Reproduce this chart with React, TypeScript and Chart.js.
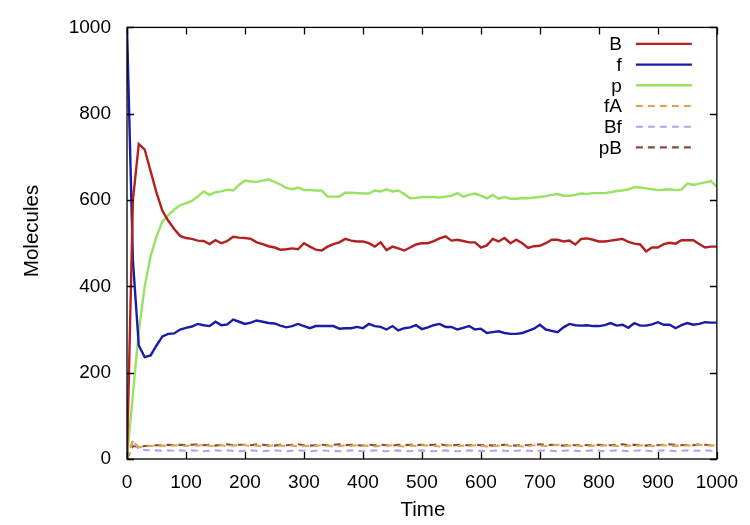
import React, { useEffect, useRef } from 'react';
import { Chart, registerables } from 'chart.js';

Chart.register(...registerables);

const time = [
  0, 10, 20, 30, 40, 50, 60, 70, 80, 90,
  100, 110, 120, 130, 140, 150, 160, 170, 180, 190,
  200, 210, 220, 230, 240, 250, 260, 270, 280, 290,
  300, 310, 320, 330, 340, 350, 360, 370, 380, 390,
  400, 410, 420, 430, 440, 450, 460, 470, 480, 490,
  500, 510, 520, 530, 540, 550, 560, 570, 580, 590,
  600, 610, 620, 630, 640, 650, 660, 670, 680, 690,
  700, 710, 720, 730, 740, 750, 760, 770, 780, 790,
  800, 810, 820, 830, 840, 850, 860, 870, 880, 890,
  900, 910, 920, 930, 940, 950, 960, 970, 980, 990,
  1000,
];

const seriesB = [
  0, 600, 730, 717, 667, 617, 575, 552, 533, 517,
  512, 510, 506, 505, 498, 507, 500, 505, 515, 513,
  512, 510, 502, 498, 493, 490, 485, 486, 488, 486,
  500, 492, 485, 483, 492, 498, 502, 510, 506, 504,
  504, 500, 492, 502, 484, 492, 488, 483, 490, 497,
  500, 500, 505, 511, 516, 506, 508, 505, 502, 502,
  490, 495, 510, 504, 512, 500, 508, 500, 489, 493,
  494, 500, 508, 508, 504, 506, 497, 510, 511, 508,
  504, 504, 506, 508, 510, 503, 499, 497, 481, 490,
  490, 498, 501, 499, 507, 507, 507, 498, 490, 492,
  492,
];

const seriesF = [
  1000, 460, 263, 236, 240, 263, 284, 290, 291, 300,
  304, 307, 313, 310, 308, 318, 310, 312, 323, 318,
  313, 316, 321, 318, 315, 314, 309, 305, 308, 313,
  308, 303, 308, 308, 308, 308, 302, 303, 303, 306,
  303, 313, 308, 306, 300, 308, 298, 303, 305, 310,
  301, 305, 310, 313, 306, 306, 300, 304, 308, 300,
  302, 292, 294, 296, 292, 290, 290, 292, 297, 302,
  311, 300, 297, 294, 305, 313, 310, 309, 310, 308,
  308, 310, 315, 309, 311, 304, 315, 309, 309, 312,
  317, 311, 311, 303, 310, 315, 311, 313, 317, 316,
  316,
];

const seriesP = [
  0, 150, 295, 400, 470, 515, 550, 565, 578, 588,
  593, 598, 608, 620, 612, 618, 620, 624, 622, 635,
  645, 643, 642, 645, 648, 642, 636, 628, 625, 629,
  623, 623, 622, 622, 608, 608, 608, 617, 617, 616,
  615, 615, 622, 620, 625, 620, 622, 614, 604, 605,
  607, 607, 607, 606, 608, 610, 616, 608, 612, 615,
  610, 604, 612, 603, 607, 603, 603, 604, 604, 606,
  607, 609, 612, 614, 610, 610, 612, 615, 614, 616,
  616, 616, 618, 621, 622, 625, 630, 629, 627, 625,
  623, 624, 625, 623, 624, 638, 635, 638, 641, 644,
  631,
];

const seriesFA = [
  0, 42, 27, 29, 30, 31, 31, 30, 32, 31,
  30, 32, 31, 33, 30, 31, 32, 30, 31, 33,
  32, 30, 31, 29, 30, 32, 31, 30, 31, 29,
  30, 31, 30, 32, 31, 29, 30, 31, 30, 32,
  30, 31, 29, 30, 31, 32, 30, 29, 31, 30,
  32, 31, 30, 29, 31, 32, 30, 31, 30, 32,
  31, 29, 30, 31, 32, 30, 31, 29, 30, 32,
  31, 30, 31, 33, 30, 31, 32, 30, 29, 31,
  30, 32, 31, 30, 29, 31, 30, 32, 31, 30,
  31, 32, 30, 31, 30, 32, 31, 33, 32, 31,
  32,
];

const seriesBF = [
  0, 45, 22, 21, 20, 20, 19, 20, 19, 20,
  19, 20, 19, 18, 19, 20, 19, 20, 19, 18,
  19, 20, 19, 18, 19, 20, 19, 18, 19, 20,
  19, 18, 19, 20, 19, 19, 18, 19, 20, 19,
  18, 19, 20, 19, 18, 19, 20, 19, 18, 19,
  20, 19, 18, 19, 20, 19, 18, 19, 20, 19,
  19, 18, 19, 20, 19, 18, 19, 20, 19, 18,
  19, 20, 19, 18, 19, 20, 19, 18, 19, 20,
  19, 18, 19, 20, 19, 18, 19, 20, 19, 18,
  19, 20, 19, 18, 19, 20, 19, 19, 20, 19,
  19,
];

const seriesPB = [
  0, 30, 28, 30, 31, 32, 32, 33, 32, 33,
  32, 33, 34, 32, 33, 31, 33, 34, 32, 33,
  33, 32, 34, 33, 32, 31, 33, 32, 33, 34,
  32, 31, 32, 33, 32, 33, 34, 32, 33, 32,
  31, 33, 32, 33, 32, 31, 33, 32, 33, 32,
  33, 32, 33, 34, 32, 31, 33, 32, 32, 33,
  32, 33, 31, 32, 33, 32, 31, 33, 32, 33,
  34, 32, 33, 32, 31, 33, 32, 33, 32, 32,
  33, 32, 32, 33, 34, 32, 33, 32, 31, 33,
  32, 33, 34, 33, 32, 33, 32, 34, 33, 32,
  33,
];

const seriesLabels = ['B', 'f', 'p', 'fA', 'Bf', 'pB'];
const seriesColors = ['#b41f1f', '#1b1ba6', '#98e262', '#dfa54c', '#b9a0ee', '#8c4a3c'];
const seriesDashed = [false, false, false, true, true, true];
const allSeries = [seriesB, seriesF, seriesP, seriesFA, seriesBF, seriesPB];

const xTicks = [0, 100, 200, 300, 400, 500, 600, 700, 800, 900, 1000];
const yTicks = [0, 200, 400, 600, 800, 1000];
const xTitle = 'Time';
const yTitle = 'Molecules';

const FONT = '"Liberation Sans", Arial, Helvetica, sans-serif';
const FONT_SIZE = 19;
const TITLE_SIZE = 20.5;

const framePlugin = {
  id: 'gnuplotFrame',
  afterDatasetsDraw(chart: any) {
    const { ctx, chartArea: a, scales } = chart;
    ctx.save();
    ctx.strokeStyle = '#000';
    ctx.lineWidth = 1.3;
    ctx.setLineDash([]);
    ctx.strokeRect(a.left, a.top, a.right - a.left, a.bottom - a.top);
    const tl = 7;
    ctx.beginPath();
    for (const v of xTicks) {
      const px = Math.round(scales.x.getPixelForValue(v)) + 0.5;
      ctx.moveTo(px, a.bottom);
      ctx.lineTo(px, a.bottom - tl);
      ctx.moveTo(px, a.top);
      ctx.lineTo(px, a.top + tl);
    }
    for (const v of yTicks) {
      const py = Math.round(scales.y.getPixelForValue(v)) + 0.5;
      ctx.moveTo(a.left, py);
      ctx.lineTo(a.left + tl, py);
      ctx.moveTo(a.right, py);
      ctx.lineTo(a.right - tl, py);
    }
    ctx.stroke();

    // axis titles
    ctx.fillStyle = '#000';
    ctx.font = `${TITLE_SIZE}px ${FONT}`;
    ctx.textAlign = 'center';
    ctx.textBaseline = 'middle';
    ctx.fillText(xTitle, (a.left + a.right) / 2 + 1, 510);
    ctx.save();
    ctx.translate(32, 231);
    ctx.rotate(-Math.PI / 2);
    ctx.fillText(yTitle, 0, 0);
    ctx.restore();

    // legend (gnuplot style: label right-aligned, sample to its right)
    ctx.font = `${FONT_SIZE}px ${FONT}`;
    ctx.textAlign = 'right';
    ctx.textBaseline = 'middle';
    chart.data.datasets.forEach((ds: any, i: number) => {
      const y = a.top + 16.5 + i * 20.7;
      ctx.fillStyle = '#000';
      ctx.fillText(ds.label, a.right - 95, y + 1);
      ctx.strokeStyle = ds.borderColor;
      ctx.lineWidth = ds.borderWidth;
      ctx.setLineDash(ds.borderDash || []);
      ctx.beginPath();
      ctx.moveTo(a.right - 81, y);
      ctx.lineTo(a.right - 25, y);
      ctx.stroke();
    });
    ctx.restore();
  },
};

export default function App() {
  const canvasRef = useRef<HTMLCanvasElement | null>(null);

  useEffect(() => {
    const canvas = canvasRef.current;
    if (!canvas) return;
    const datasets = allSeries.map((vals, i) => ({
      label: seriesLabels[i],
      data: vals.map((v, k) => ({ x: time[k], y: v })),
      borderColor: seriesColors[i],
      backgroundColor: seriesColors[i],
      borderWidth: seriesDashed[i] ? 2.1 : 2.4,
      borderDash: seriesDashed[i] ? [7, 5] : [],
      pointRadius: 0,
      tension: 0,
      fill: false,
    }));
    const chart = new Chart(canvas, {
      type: 'line',
      data: { datasets },
      options: {
        animation: false,
        responsive: false,
        devicePixelRatio: 1,
        layout: { padding: { top: 26, right: 32, left: 0, bottom: 0 } },
        plugins: { legend: { display: false }, tooltip: { enabled: false } },
        scales: {
          x: {
            type: 'linear',
            min: 0,
            max: 1000,
            grid: { display: false, drawTicks: false },
            border: { display: false },
            afterBuildTicks: (s: any) => {
              s.ticks = xTicks.map((v) => ({ value: v }));
            },
            afterFit: (s: any) => {
              s.height = 66;
            },
            ticks: {
              padding: 12,
              color: '#000',
              maxRotation: 0,
              autoSkip: false,
              font: { family: FONT, size: FONT_SIZE },
              callback: (v: any) => String(v),
            },
            title: { display: false },
          },
          y: {
            type: 'linear',
            min: 0,
            max: 1000,
            grid: { display: false, drawTicks: false },
            border: { display: false },
            afterBuildTicks: (s: any) => {
              s.ticks = yTicks.map((v) => ({ value: v }));
            },
            afterFit: (s: any) => {
              s.width = 127;
            },
            ticks: {
              padding: 16,
              color: '#000',
              autoSkip: false,
              font: { family: FONT, size: FONT_SIZE },
              callback: (v: any) => String(v),
            },
            title: { display: false },
          },
        },
      },
      plugins: [framePlugin],
    });
    return () => chart.destroy();
  }, []);

  return (
    <div style={{ position: 'fixed', left: 0, top: 0, width: 750, height: 525, background: '#fff' }}>
      <canvas ref={canvasRef} width={750} height={525} style={{ display: 'block' }} />
    </div>
  );
}
